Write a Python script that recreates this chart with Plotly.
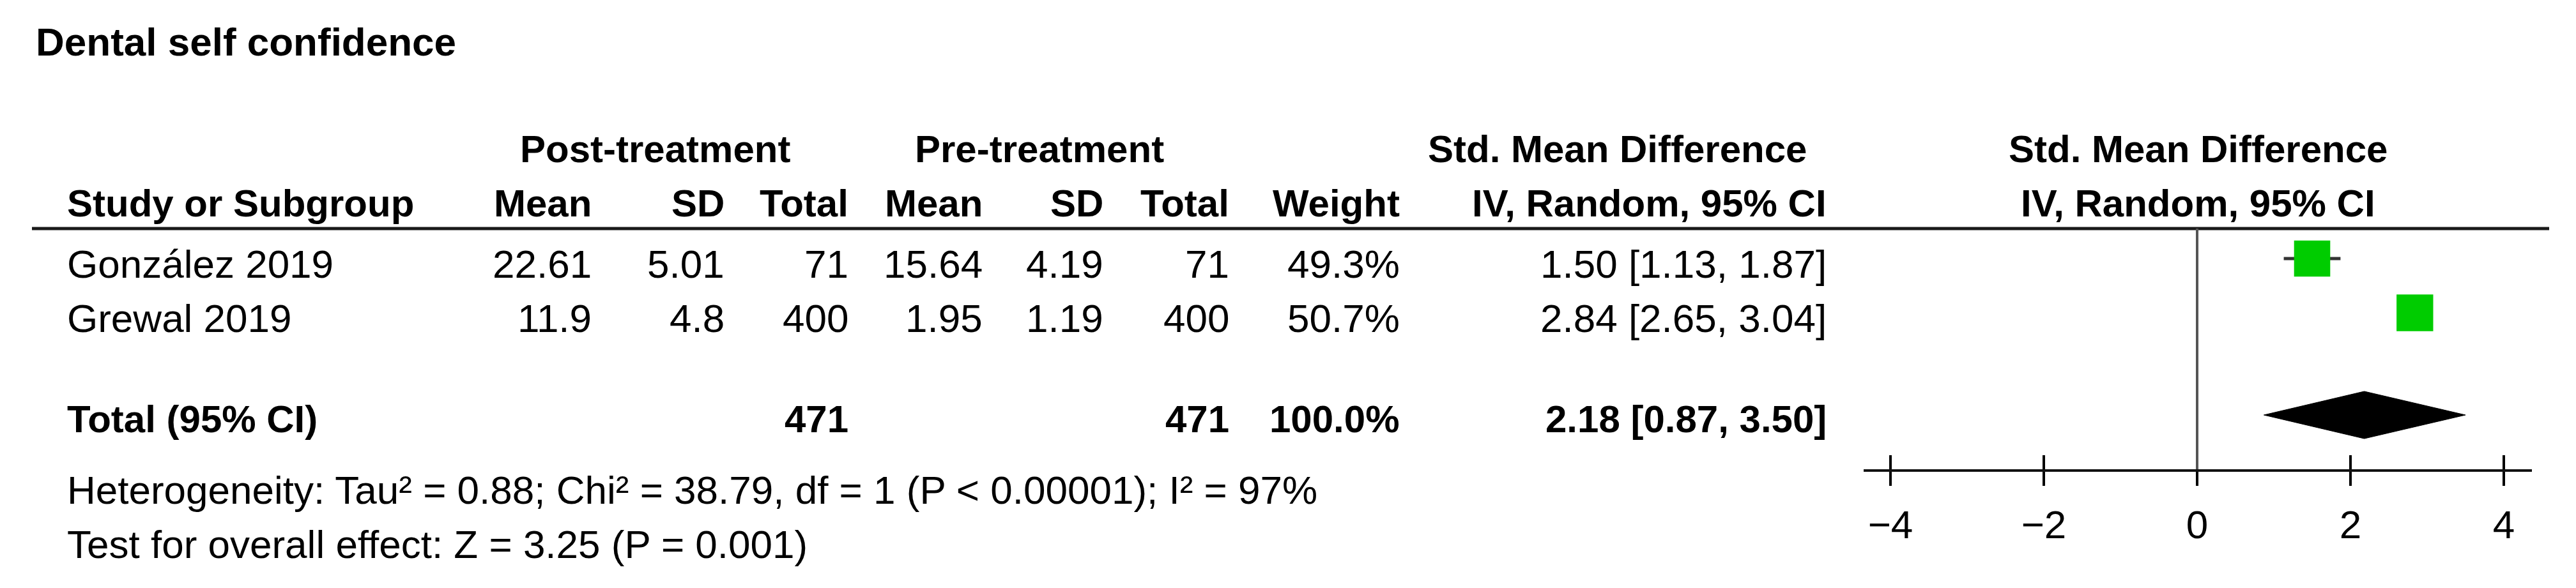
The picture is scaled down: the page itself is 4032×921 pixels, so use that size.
import plotly.graph_objects as go

# ---------------- data ----------------
title = "Dental self confidence"
studies = ["González 2019", "Grewal 2019"]
post_mean = [22.61, 11.9]
post_sd = [5.01, 4.8]
post_n = [71, 400]
pre_mean = [15.64, 1.95]
pre_sd = [4.19, 1.19]
pre_n = [71, 400]
weights = [49.3, 50.7]
smd = [1.50, 2.84]
ci_low = [1.13, 2.65]
ci_high = [1.87, 3.04]

total_label = "Total (95% CI)"
total_post_n = 471
total_pre_n = 471
total_weight = 100.0
total_smd = 2.18
total_low = 0.87
total_high = 3.50

heterogeneity = "Heterogeneity: Tau² = 0.88; Chi² = 38.79, df = 1 (P < 0.00001); I² = 97%"
overall = "Test for overall effect: Z = 3.25 (P = 0.001)"
tick_vals = [-4, -2, 0, 2, 4]

# ---------------- layout constants ----------------
W, H = 4032, 921
FONT = "Liberation Sans, Arial, sans-serif"
FS_REG = 62
FS_BOLD = 60
row_pos = [0, 1]
ROW0_PX, ROW_PX = 405, 85
total_pos = (650 - ROW0_PX) / ROW_PX
TEXT_DY = 8 / ROW_PX
AXIS_PX = 735
HEADER_LINE_PX = 358


def r(px):
    return (px - ROW0_PX) / ROW_PX


def py(px):
    return 1 - px / H


def pxx(px):
    return px / W


col_right = dict(post_mean=928, post_sd=1136, post_n=1330, pre_mean=1540,
                 pre_sd=1729, pre_n=1926, weight=2193, ci=2861)
STUDY_X = 103

fig = go.Figure()

# CI whiskers
for i, lo, hi in zip(row_pos, ci_low, ci_high):
    fig.add_trace(go.Scatter(x=[lo, hi], y=[i, i], mode="lines",
                             line=dict(color="#333333", width=5),
                             hoverinfo="skip", xaxis="x", yaxis="y"))
# study squares
fig.add_trace(go.Scatter(x=smd, y=row_pos, mode="markers",
                         marker=dict(symbol="square", color="#00CC00", opacity=1,
                                     size=[57 * (w / 50) ** 0.5 for w in weights],
                                     line=dict(width=0)),
                         xaxis="x", yaxis="y"))
# pooled diamond
dh = 37 / ROW_PX
fig.add_trace(go.Scatter(x=[total_low, total_smd, total_high, total_smd, total_low],
                         y=[total_pos, total_pos - dh, total_pos, total_pos + dh, total_pos],
                         mode="lines", fill="toself", fillcolor="black",
                         line=dict(color="black", width=1), xaxis="x", yaxis="y"))
# invisible trace for overlay axis (ticks crossing the axis line)
fig.add_trace(go.Scatter(x=[0], y=[0], mode="markers", marker=dict(opacity=0),
                         xaxis="x2", yaxis="y", hoverinfo="skip"))

ann = []


def txt(text, x, y, xanchor="right", yref="y", bold=False, size=None):
    if size is None:
        size = FS_BOLD if bold else FS_REG
    ann.append(dict(text=f"<b>{text}</b>" if bold else text, x=x, y=y,
                    xref="paper", yref=yref, xanchor=xanchor, yanchor="middle",
                    showarrow=False, font=dict(family=FONT, size=size, color="black")))


# title
txt(title, pxx(54), py(65), xanchor="left", yref="paper", bold=True, size=62)
# group headers
gy = py(233)
txt("Post-treatment", pxx(1025), gy, xanchor="center", yref="paper", bold=True)
txt("Pre-treatment", pxx(1627), gy, xanchor="center", yref="paper", bold=True)
txt("Std. Mean Difference", pxx(2531), gy, xanchor="center", yref="paper", bold=True)
txt("Std. Mean Difference", pxx(3440), gy, xanchor="center", yref="paper", bold=True)
# column headers
hy = py(319)
txt("Study or Subgroup", pxx(STUDY_X), hy, xanchor="left", yref="paper", bold=True)
for key, lab in [("post_mean", "Mean"), ("post_sd", "SD"), ("post_n", "Total"),
                 ("pre_mean", "Mean"), ("pre_sd", "SD"), ("pre_n", "Total"),
                 ("weight", "Weight"), ("ci", "IV, Random, 95% CI")]:
    txt(lab, pxx(col_right[key]), hy, yref="paper", bold=True)
txt("IV, Random, 95% CI", pxx(3440), hy, xanchor="center", yref="paper", bold=True)

# study rows
for k, i in enumerate(row_pos):
    ty = i + TEXT_DY
    txt(studies[k], pxx(STUDY_X), ty, xanchor="left")
    txt(str(post_mean[k]), pxx(col_right["post_mean"]), ty)
    txt(str(post_sd[k]), pxx(col_right["post_sd"]), ty)
    txt(str(post_n[k]), pxx(col_right["post_n"]), ty)
    txt(str(pre_mean[k]), pxx(col_right["pre_mean"]), ty)
    txt(str(pre_sd[k]), pxx(col_right["pre_sd"]), ty)
    txt(str(pre_n[k]), pxx(col_right["pre_n"]), ty)
    txt(f"{weights[k]:.1f}%", pxx(col_right["weight"]), ty)
    txt(f"{smd[k]:.2f} [{ci_low[k]:.2f}, {ci_high[k]:.2f}]", pxx(col_right["ci"]), ty)

# total row
ty = total_pos + 6 / ROW_PX
txt(total_label, pxx(STUDY_X), ty, xanchor="left", bold=True)
txt(str(total_post_n), pxx(col_right["post_n"]), ty, bold=True)
txt(str(total_pre_n), pxx(col_right["pre_n"]), ty, bold=True)
txt(f"{total_weight:.1f}%", pxx(col_right["weight"]), ty, bold=True)
txt(f"{total_smd:.2f} [{total_low:.2f}, {total_high:.2f}]", pxx(col_right["ci"]), ty, bold=True)

# footnotes
txt(heterogeneity, pxx(STUDY_X), py(767), xanchor="left", yref="paper")
txt(overall, pxx(STUDY_X), py(852), xanchor="left", yref="paper")

shapes = [
    # header rule
    dict(type="line", xref="paper", yref="paper", x0=pxx(50), x1=pxx(3990),
         y0=py(HEADER_LINE_PX), y1=py(HEADER_LINE_PX), line=dict(color="#1a1a1a", width=5)),
    # line of no effect
    dict(type="line", xref="x", yref="paper", x0=0, x1=0, y0=py(AXIS_PX),
         y1=py(HEADER_LINE_PX), line=dict(color="#555555", width=4)),
]

ax_lo = (2917 - 3439) / 120
ax_hi = (3963 - 3439) / 120
xdom = [pxx(2917), pxx(3963)]
fig.update_layout(
    width=W, height=H, margin=dict(l=0, r=0, t=0, b=0),
    paper_bgcolor="white", plot_bgcolor="white", showlegend=False,
    annotations=ann, shapes=shapes,
    xaxis=dict(domain=xdom, range=[ax_lo, ax_hi], tickvals=tick_vals,
               ticks="outside", ticklen=22, tickwidth=4, tickcolor="black",
               showline=True, linecolor="#111111", linewidth=4,
               showgrid=False, zeroline=False, anchor="y", ticklabelstandoff=8,
               tickfont=dict(family=FONT, size=FS_REG, color="black")),
    xaxis2=dict(domain=xdom, range=[ax_lo, ax_hi], tickvals=tick_vals,
                overlaying="x", matches="x", anchor="y", side="bottom",
                ticks="inside", ticklen=22, tickwidth=4, tickcolor="black",
                showticklabels=False, showline=False, showgrid=False, zeroline=False),
    yaxis=dict(domain=[py(AXIS_PX), 1], range=[r(AXIS_PX), r(0)], visible=False,
               showgrid=False, zeroline=False),
)

fig.write_html("out.html", config={"displayModeBar": False},
               post_script="document.body.style.margin='0';document.body.style.overflow='hidden';")
